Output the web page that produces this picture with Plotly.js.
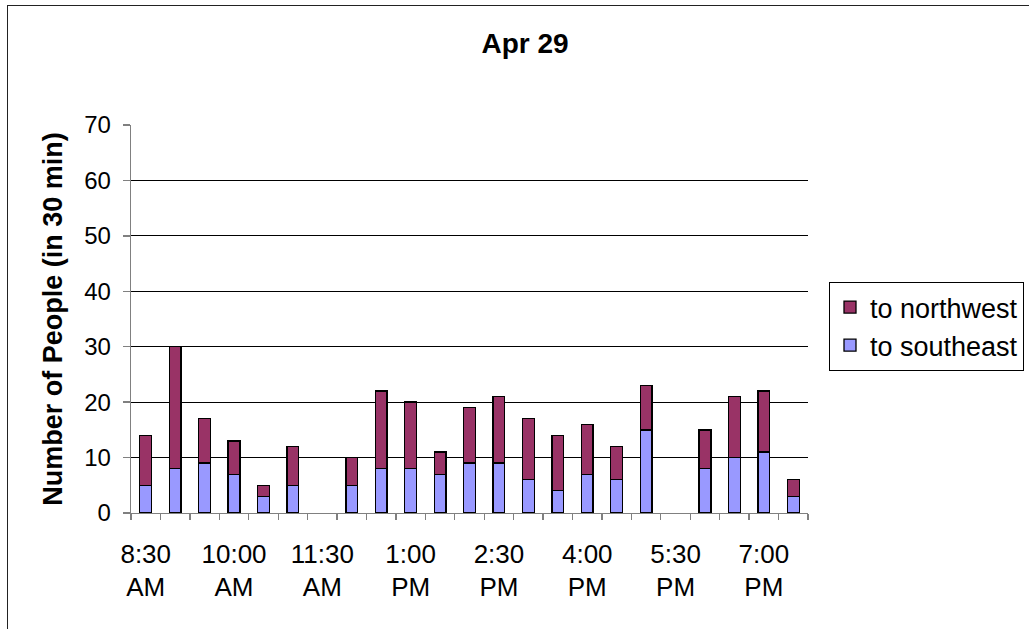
<!DOCTYPE html>
<html>
<head>
<meta charset="utf-8">
<script src="https://cdn.plot.ly/plotly-3.0.1.min.js"></script>
<style>
  html, body { margin: 0; padding: 0; background: #fff; overflow: hidden; }
  #frame { position: absolute; left: 7px; top: 5px; width: 1100px; height: 700px; border: 1px solid #222; box-sizing: border-box; }
  #chart { position: absolute; left: 0; top: 0; width: 1029px; height: 629px; }
</style>
</head>
<body>
<div id="frame"></div>
<div id="chart"></div>
<script>
// Half-hour slots
const timeSlots = ["8:30 AM","9:00 AM","9:30 AM","10:00 AM","10:30 AM","11:00 AM","11:30 AM","12:00 PM","12:30 PM","1:00 PM","1:30 PM","2:00 PM","2:30 PM","3:00 PM","3:30 PM","4:00 PM","4:30 PM","5:00 PM","5:30 PM","6:00 PM","6:30 PM","7:00 PM","7:30 PM"];
// People heading southeast (bottom segment)
const toSoutheast = [5,8,9,7,3,5,0,5,8,8,7,9,9,6,4,7,6,15,0,8,10,11,3];
// People heading northwest (top segment)
const toNorthwest = [9,22,8,6,2,7,0,5,14,12,4,10,12,11,10,9,6,8,0,7,11,11,3];
// Which slots get a label (every third)
const labelEvery = 3;

const xIdx = timeSlots.map((_, i) => i);
const tickVals = xIdx.filter(i => i % labelEvery === 0);
const tickText = tickVals.map(i => timeSlots[i].replace(" ", "<br>"));
// empty slots draw no bar at all
const noZero = arr => arr.map(v => (v === 0 ? null : v));

const FONT = "Liberation Sans, Arial, Helvetica, sans-serif";

const traces = [
  {
    type: "bar", name: "to southeast", x: xIdx, y: noZero(toSoutheast),
    marker: { color: "#9999FF", line: { color: "#000", width: 1.3 } },
    legendrank: 2, hoverinfo: "x+y"
  },
  {
    type: "bar", name: "to northwest", x: xIdx, y: noZero(toNorthwest),
    marker: { color: "#993366", line: { color: "#000", width: 1.3 } },
    legendrank: 1, hoverinfo: "x+y"
  }
];

const layout = {
  width: 1029, height: 629,
  margin: { l: 131, r: 220.5, t: 124.5, b: 116, pad: 0, autoexpand: false },
  paper_bgcolor: "rgba(0,0,0,0)",
  plot_bgcolor: "rgba(0,0,0,0)",
  barmode: "stack",
  bargap: 0.6,
  font: { family: FONT, color: "#000", size: 24 },
  title: {
    text: "<b>Apr 29</b>",
    font: { family: FONT, size: 28, color: "#000" },
    xref: "container", yref: "container",
    x: 525 / 1029, xanchor: "center",
    y: 1 - 43 / 629, yanchor: "middle"
  },
  xaxis: {
    type: "linear",
    range: [-0.5, timeSlots.length - 0.5],
    tickmode: "array", tickvals: tickVals, ticktext: tickText,
    ticks: "", ticklabelstandoff: 17,
    tickfont: { family: FONT, size: 26, color: "#000" },
    showgrid: false, zeroline: false,
    showline: true, linecolor: "#808080", linewidth: 1.3,
    minor: { tickmode: "linear", tick0: -0.5, dtick: 1, ticks: "outside", ticklen: 6, tickcolor: "#808080", tickwidth: 1.3, showgrid: false },
    fixedrange: true
  },
  yaxis: {
    range: [0, 70], tickmode: "linear", tick0: 0, dtick: 10,
    ticks: "outside", ticklen: 7, tickcolor: "#808080", tickwidth: 1.3,
    ticklabelstandoff: 7,
    tickfont: { family: FONT, size: 24, color: "#000" },
    showgrid: true, gridcolor: "#000", gridwidth: 1,
    zeroline: false, showline: true, linecolor: "#808080", linewidth: 1.3,
    title: { text: "<b>Number of People (in 30 min)</b>", font: { family: FONT, size: 27, color: "#000" }, standoff: 13 },
    fixedrange: true
  },
  showlegend: true,
  legend: {
    xref: "container", yref: "container",
    x: 829 / 1029, xanchor: "left",
    y: 1 - 282 / 629, yanchor: "top",
    traceorder: "normal",
    bordercolor: "#000", borderwidth: 1, bgcolor: "#fff",
    font: { family: FONT, size: 27, color: "#000" }
  }
};

Plotly.newPlot("chart", traces, layout, { displayModeBar: false, staticPlot: true });
</script>
</body>
</html>
